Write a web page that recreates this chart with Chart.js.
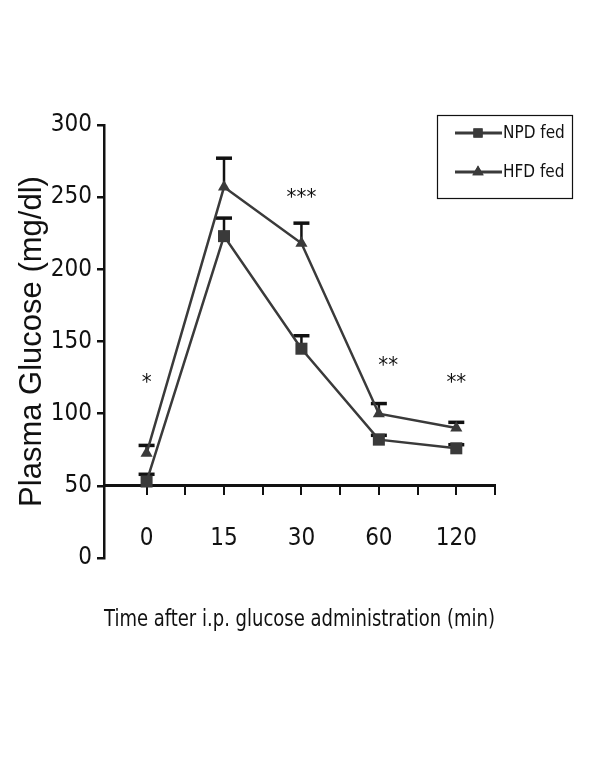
<!DOCTYPE html>
<html>
<head>
<meta charset="utf-8">
<script src="https://cdn.jsdelivr.net/npm/chart.js@4/dist/chart.umd.min.js"></script>
<style>
  html, body { margin: 0; padding: 0; background: #fff; }
  #wrap { width: 600px; height: 777px; }
</style>
</head>
<body>
<div id="wrap"><canvas id="theGraph" width="600" height="777"></canvas></div>
<script>
// data
var timeLabels = ['0', '15', '30', '60', '120'];
var npdMean = [53, 223, 145, 82, 76];
var npdErr  = [5, 12.5, 9, 3, 2.5];
var hfdMean = [72.5, 257, 218, 100, 90];
var hfdErr  = [5.5, 20, 14, 7, 4];
// significance marks (x index, y value)
var sigText = ['*', '***', '**', '**'];
var sigX    = [0, 2, 3.12, 4];
var sigY    = [121, 249, 133, 121];
var yTicks  = [0, 50, 100, 150, 200, 250, 300];

var narrow = "'Liberation Sans Narrow', 'DejaVu Sans Condensed', sans-serif";
var ink = '#3a3a3a';

function pts(arr) {
  return arr.map(function (v, i) { return { x: i, y: v }; });
}

// error bars (upper only, with cap)
var errorBars = {
  id: 'errorBars',
  beforeDatasetsDraw: function (chart) {
    var ctx = chart.ctx, xs = chart.scales.x, ys = chart.scales.y;
    var sets = [[npdMean, npdErr], [hfdMean, hfdErr]];
    ctx.save();
    ctx.strokeStyle = '#111';
    sets.forEach(function (s) {
      s[0].forEach(function (v, i) {
        var px = xs.getPixelForValue(i);
        var y0 = ys.getPixelForValue(v);
        var y1 = ys.getPixelForValue(v + s[1][i]);
        ctx.lineWidth = 2.5;
        ctx.beginPath(); ctx.moveTo(px, y0); ctx.lineTo(px, y1); ctx.stroke();
        ctx.lineWidth = 3.5;
        ctx.beginPath(); ctx.moveTo(px - 8, y1); ctx.lineTo(px + 8, y1); ctx.stroke();
      });
    });
    ctx.restore();
  }
};

// asterisks
var sigMarks = {
  id: 'sigMarks',
  afterDatasetsDraw: function (chart) {
    var ctx = chart.ctx, xs = chart.scales.x, ys = chart.scales.y;
    ctx.save();
    ctx.fillStyle = '#111';
    ctx.font = '22px ' + narrow;
    ctx.textAlign = 'center';
    ctx.textBaseline = 'middle';
    sigText.forEach(function (t, i) {
      ctx.fillText(t, xs.getPixelForValue(sigX[i]), ys.getPixelForValue(sigY[i]));
    });
    ctx.restore();
  }
};

// boxed legend with line + marker
var boxLegend = {
  id: 'boxLegend',
  afterDraw: function (chart) {
    var ctx = chart.ctx;
    ctx.save();
    ctx.strokeStyle = '#111';
    ctx.lineWidth = 1.2;
    ctx.strokeRect(437.5, 115.5, 135, 83);
    chart.data.datasets.forEach(function (ds, i) {
      var y = 133 + i * 39;
      ctx.strokeStyle = ink;
      ctx.lineWidth = 3;
      ctx.beginPath(); ctx.moveTo(455, y); ctx.lineTo(502, y); ctx.stroke();
      ctx.fillStyle = ink;
      Chart.helpers.drawPoint(ctx, { pointStyle: ds.pointStyle, radius: 6.5, rotation: 0, borderWidth: 0 }, 478, y);
      ctx.fill();
      ctx.fillStyle = '#111';
      ctx.font = '17px ' + narrow;
      ctx.textAlign = 'left';
      ctx.textBaseline = 'middle';
      ctx.fillText(ds.label, 503, y + 1);
    });
    ctx.restore();
  }
};

var ctx = document.getElementById('theGraph').getContext('2d');
var chart = new Chart(ctx, {
  type: 'line',
  data: {
    datasets: [{
      label: 'NPD fed',
      data: pts(npdMean),
      borderColor: ink,
      backgroundColor: ink,
      borderWidth: 2.5,
      pointStyle: 'rect',
      pointRadius: 8.5,
      pointBorderWidth: 0,
      tension: 0
    }, {
      label: 'HFD fed',
      data: pts(hfdMean),
      borderColor: ink,
      backgroundColor: ink,
      borderWidth: 2.5,
      pointStyle: 'triangle',
      pointRadius: 7,
      pointBorderWidth: 0,
      tension: 0
    }]
  },
  options: {
    responsive: false,
    animation: false,
    layout: { padding: { top: 125, right: 105, bottom: 219, left: 0 } },
    plugins: {
      legend: { display: false },
      tooltip: { enabled: false }
    },
    scales: {
      x: {
        type: 'linear',
        position: { y: 50 },
        min: -0.55,
        max: 4.5,
        afterBuildTicks: function (scale) {
          var t = [];
          for (var v = 0; v <= 4.5; v += 0.5) t.push({ value: v });
          scale.ticks = t;
        },
        ticks: {
          color: '#111',
          font: { family: narrow, size: 24 },
          padding: 31,
          maxRotation: 0,
          autoSkip: false,
          callback: function (v) {
            return Number.isInteger(v) ? timeLabels[v] : '';
          }
        },
        grid: { drawOnChartArea: false, color: '#111', lineWidth: 2, tickLength: 8 },
        border: { color: '#111', width: 3 },
        title: {
          display: true,
          text: 'Time after i.p. glucose administration (min)',
          color: '#111',
          font: { family: narrow, size: 23 },
          padding: { top: 22, bottom: 0 }
        }
      },
      y: {
        min: 0,
        max: 300,
        afterBuildTicks: function (scale) {
          scale.ticks = yTicks.map(function (v) { return { value: v }; });
        },
        afterFit: function (scale) { scale.width = 104; },
        ticks: {
          color: '#111',
          font: { family: narrow, size: 24 },
          padding: 5
        },
        grid: { drawOnChartArea: false, color: '#111', lineWidth: 2.5, tickLength: 7 },
        border: { color: '#111', width: 2.5 },
        title: {
          display: true,
          text: 'Plasma Glucose (mg/dl)',
          color: '#111',
          font: { family: "'Liberation Sans', Arial, sans-serif", size: 31 },
          padding: { top: 14, bottom: 0 }
        }
      }
    }
  },
  plugins: [errorBars, sigMarks, boxLegend]
});
</script>
</body>
</html>
